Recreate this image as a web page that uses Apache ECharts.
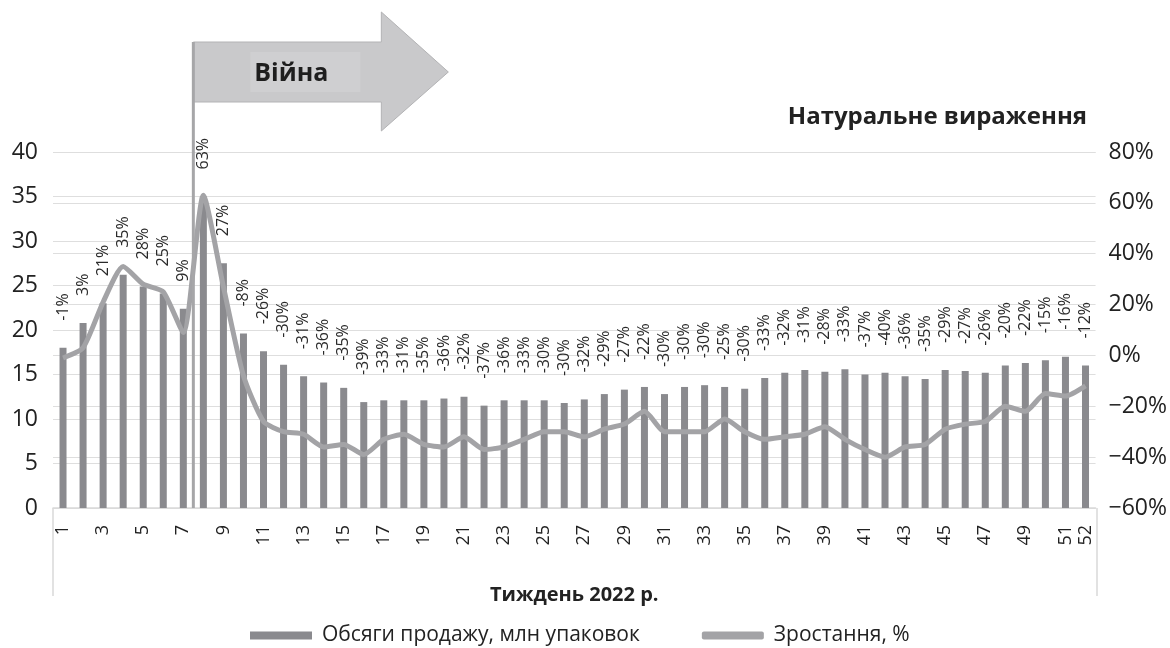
<!DOCTYPE html>
<html>
<head>
<meta charset="utf-8">
<script src="https://cdn.jsdelivr.net/npm/echarts@6/dist/echarts.min.js"></script>
<style>html,body{margin:0;padding:0;background:#fff}#c{width:1170px;height:648px}</style>
</head>
<body>
<div id="c"></div>
<script>
const weeks = Array.from({length: 52}, (_, i) => String(i + 1));
const sales = [18.0, 20.8, 23.0, 26.2, 24.9, 24.1, 22.4, 35.0, 27.5, 19.6,
  17.6, 16.1, 14.8, 14.1, 13.5, 11.9, 12.1, 12.1, 12.1, 12.3,
  12.5, 11.5, 12.1, 12.1, 12.1, 11.8, 12.2, 12.8, 13.3, 13.6,
  12.8, 13.6, 13.8, 13.6, 13.4, 14.6, 15.2, 15.5, 15.3, 15.6,
  15.0, 15.2, 14.8, 14.5, 15.5, 15.4, 15.2, 16.0, 16.3, 16.6,
  17.0, 16.0];
const growth = [-1, 3, 21, 35, 28, 25, 9, 63, 27, -8,
  -26, -30, -31, -36, -35, -39, -33, -31, -35, -36,
  -32, -37, -36, -33, -30, -30, -32, -29, -27, -22,
  -30, -30, -30, -25, -30, -33, -32, -31, -28, -33,
  -37, -40, -36, -35, -29, -27, -26, -20, -22, -15,
  -16, -12];
const leftTicks = {min: 0, max: 40, interval: 5};
const rightTicks = {min: -60, max: 80, interval: 20};
const barName = 'Обсяги продажу, млн упаковок';
const lineName = 'Зростання, %';
const chartTitle = 'Натуральне вираження';
const xName = 'Тиждень 2022 р.';
const warLabel = 'Війна';

const FONT = '"Open Sans", "Noto Sans", sans-serif';
const chart = echarts.init(document.getElementById('c'));
const grid = {left: 53, right: 73, top: 152, bottom: 140};

chart.setOption({
  backgroundColor: '#fff',
  animation: false,
  textStyle: {fontFamily: FONT},
  title: {
    text: chartTitle, right: 78, top: 100,
    textStyle: {fontFamily: FONT, fontSize: 24, fontWeight: 'bold', color: '#222'}
  },
  legend: {
    left: 245, top: 620, itemWidth: 62, itemHeight: 8, itemGap: 62,
    textStyle: {fontFamily: FONT, fontSize: 21, color: '#222', padding: [0, 0, 0, 5]},
    data: [
      {name: barName, icon: 'rect', itemStyle: {color: '#8a8a8e'}},
      {name: lineName, icon: 'roundRect', itemStyle: {color: '#a3a3a6'}}
    ]
  },
  grid: grid,
  xAxis: {
    type: 'category', data: weeks,
    axisLine: {lineStyle: {color: '#d9d9d9', width: 1.5}},
    axisTick: {show: false},
    axisLabel: {
      rotate: 90, fontSize: 18, color: '#222', margin: 17, fontFamily: FONT,
      interval: (i) => i % 2 === 0 || i === 51
    },
    name: xName, nameLocation: 'middle', nameGap: 77,
    nameTextStyle: {fontFamily: FONT, fontSize: 20, fontWeight: 'bold', color: '#222'}
  },
  yAxis: [
    {
      type: 'value', min: leftTicks.min, max: leftTicks.max, interval: leftTicks.interval,
      axisLine: {show: false}, axisTick: {show: false},
      axisLabel: {fontSize: 23, color: '#222', margin: 15, fontFamily: FONT},
      splitLine: {lineStyle: {color: '#dedede', width: 1.2}}
    },
    {
      type: 'value', min: rightTicks.min, max: rightTicks.max, interval: rightTicks.interval,
      axisLine: {show: false}, axisTick: {show: false},
      axisLabel: {fontSize: 23, color: '#222', margin: 13, fontFamily: FONT,
        formatter: (v) => (v < 0 ? '\u2212' + Math.abs(v) : v) + '%'},
      splitLine: {lineStyle: {color: '#dedede', width: 1.2}}
    }
  ],
  series: [
    {
      name: barName, type: 'bar', data: sales, yAxisIndex: 0, barWidth: 7,
      itemStyle: {color: '#8a8a8e'},
      label: {
        show: true, position: 'top', rotate: 90, distance: 27,
        align: 'left', verticalAlign: 'middle',
        fontSize: 16, color: '#2a2a2a', fontFamily: FONT,
        formatter: (p) => growth[p.dataIndex] + '%'
      },
      z: 2
    },
    {
      name: lineName, type: 'line', data: growth, yAxisIndex: 1,
      smooth: 0.2, symbol: 'none',
      lineStyle: {color: '#a3a3a6', width: 5},
      itemStyle: {color: '#a3a3a6'},
      z: 3
    }
  ]
});

function drawDecor() {
  const x7 = chart.convertToPixel({xAxisIndex: 0}, '7');
  const x8 = chart.convertToPixel({xAxisIndex: 0}, '8');
  const warX = (x7 + x8) / 2;
  const bottomY = 648 - grid.bottom;
  const leftX = grid.left, rightX = 1170 - grid.right;
  const bx = warX, top = 42, bot = 102, neck = bx + 188, tip = bx + 255;
  chart.setOption({
    graphic: [
      {type: 'line', shape: {x1: leftX, y1: bottomY, x2: leftX, y2: bottomY + 88},
        style: {stroke: '#d9d9d9', lineWidth: 1.5}, z: 10},
      {type: 'line', shape: {x1: rightX, y1: bottomY, x2: rightX, y2: bottomY + 88},
        style: {stroke: '#d9d9d9', lineWidth: 1.5}, z: 10},
      {type: 'polygon', shape: {points: [[bx, top], [neck, top], [neck, 12], [tip, 72], [neck, 131], [neck, bot], [bx, bot]]},
        style: {fill: '#c9c9cb', stroke: '#b3b3b5', lineWidth: 1}, z: 10},
      {type: 'rect', shape: {x: bx + 57, y: 52, width: 110, height: 40},
        style: {fill: '#cfcfd1'}, z: 11},
      {type: 'text', x: bx + 98, y: 74,
        style: {text: warLabel, font: 'bold 25px ' + FONT, fill: '#1e1e1e', align: 'center', verticalAlign: 'middle'}, z: 12},
      {type: 'line', shape: {x1: warX, y1: top, x2: warX, y2: bottomY},
        style: {stroke: '#a6a6a8', lineWidth: 3}, z: 13}
    ]
  });
}
drawDecor();
</script>
</body>
</html>
